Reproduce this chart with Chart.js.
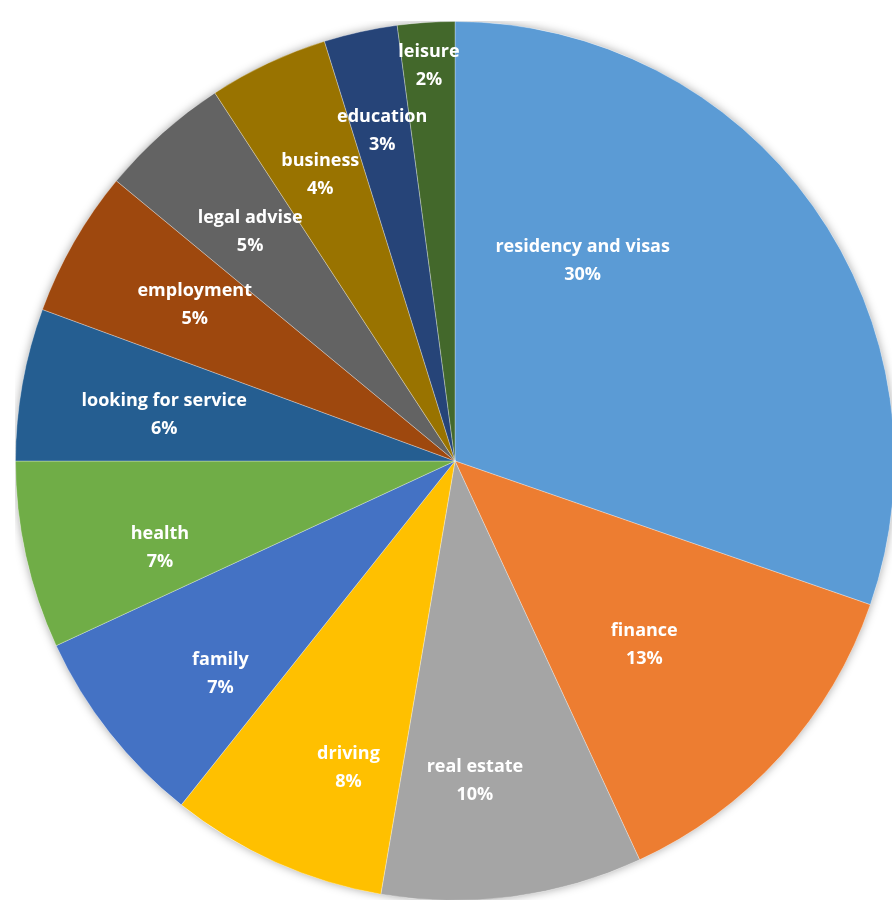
<!DOCTYPE html>
<html>
<head>
<meta charset="utf-8">
<script src="https://cdn.jsdelivr.net/npm/chart.js@4.4.1/dist/chart.umd.min.js"></script>
<style>
  html, body { margin: 0; padding: 0; background: #fff; overflow: hidden; }
  #wrap { position: relative; width: 892px; height: 900px; overflow: hidden; }
  #chart { position: absolute; left: 15px; top: 21px; }
</style>
</head>
<body>
<div id="wrap">
  <canvas id="chart" width="880" height="880"></canvas>
</div>
<script>
// categorias y porcentajes
const categorias = [
  'residency and visas', 'finance', 'real estate', 'driving', 'family', 'health',
  'looking for service', 'employment', 'legal advise', 'business', 'education', 'leisure'
];
const valores = [30.3, 12.8, 9.6, 8.0, 7.4, 6.9, 5.6, 5.4, 4.8, 4.4, 2.7, 2.1];

const colores = [
  '#5B9BD5', '#ED7D31', '#A5A5A5', '#FFC000', '#4472C4', '#70AD47',
  '#255E91', '#9E480E', '#636363', '#997300', '#264478', '#43682B'
];

// sombra suave alrededor del pastel
const sombraPlugin = {
  id: 'sombra',
  beforeDatasetsDraw(chart) {
    const arc = chart.getDatasetMeta(0).data[0];
    if (!arc) return;
    const ctx = chart.ctx;
    ctx.save();
    ctx.beginPath();
    ctx.arc(arc.x, arc.y, arc.outerRadius, 0, Math.PI * 2);
    ctx.fillStyle = '#ffffff';
    ctx.shadowColor = 'rgba(0,0,0,0.35)';
    ctx.shadowBlur = 10;
    ctx.fill();
    ctx.restore();
  }
};

// etiquetas dentro de cada porcion (nombre + porcentaje)
const etiquetasPlugin = {
  id: 'etiquetas',
  afterDatasetsDraw(chart, args, opts) {
    const ctx = chart.ctx;
    const meta = chart.getDatasetMeta(0);
    const datos = chart.data.datasets[0].data;
    const total = datos.reduce((a, b) => a + b, 0);
    ctx.save();
    ctx.fillStyle = '#ffffff';
    ctx.textAlign = 'center';
    ctx.textBaseline = 'middle';
    ctx.font = opts.font;
    meta.data.forEach((arc, i) => {
      const medio = (arc.startAngle + arc.endAngle) / 2 + (opts.shift[i] || 0) * Math.PI / 180;
      const r = arc.outerRadius * opts.radius[i];
      const x = arc.x + Math.cos(medio) * r;
      const y = arc.y + Math.sin(medio) * r;
      const pct = Math.round(datos[i] / total * 100) + '%';
      ctx.fillText(chart.data.labels[i], x, y - opts.lineGap / 2);
      ctx.fillText(pct, x, y + opts.lineGap / 2);
    });
    ctx.restore();
  }
};

const ctx = document.getElementById('chart').getContext('2d');
new Chart(ctx, {
  type: 'pie',
  data: {
    labels: categorias,
    datasets: [{
      data: valores,
      backgroundColor: colores,
      borderColor: 'rgba(255,255,255,0.3)',
      borderWidth: 1
    }]
  },
  options: {
    responsive: false,
    animation: false,
    layout: { padding: 0 },
    plugins: {
      legend: { display: false },
      tooltip: { enabled: false },
      etiquetas: {
        font: 'bold 18px "Open Sans", sans-serif',
        lineGap: 28,
        radius: [0.54, 0.6, 0.73, 0.74, 0.72, 0.7, 0.67, 0.69, 0.7, 0.72, 0.77, 0.9],
        shift: [-22, 2, 4, -5, -4, -4, -1, 1, 0, 0, 0, 0]
      }
    }
  },
  plugins: [sombraPlugin, etiquetasPlugin]
});
</script>
</body>
</html>
